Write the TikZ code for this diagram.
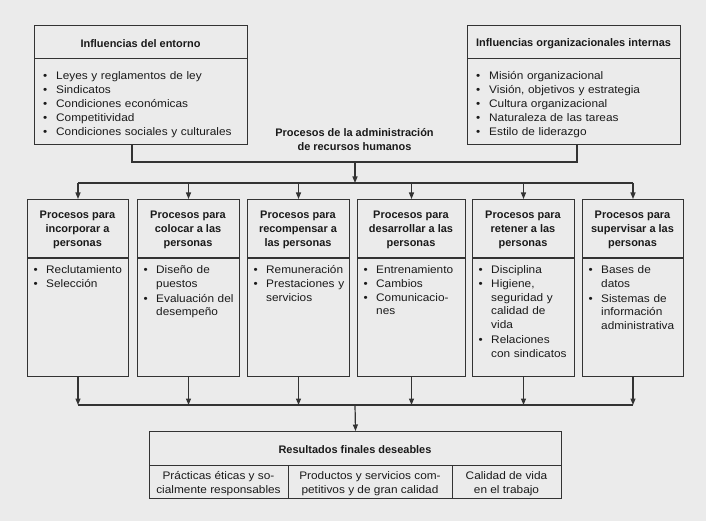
\documentclass[tikz,border=0pt]{standalone}
\usepackage{fontspec}
\setmainfont{Liberation Sans}[FakeStretch=1.08]
\newfontfamily\hdfont{Liberation Sans}[UprightFont={* Bold}]
\usetikzlibrary{arrows.meta}
\definecolor{bgc}{HTML}{EBEBEB}
\definecolor{lnc}{HTML}{333333}
\definecolor{txc}{HTML}{1A1A1A}
\newcommand\bl[1]{\par\noindent\makebox[12.5bp][l]{\textbullet}\begin{tabular}[t]{@{}l@{}}#1\end{tabular}\par}
\newcommand\blt[1]{\par\noindent\makebox[13bp][l]{\textbullet}\strut#1\par}
\tikzset{
  boxst/.style={draw=lnc, line width=1bp, fill=bgc, inner sep=0pt, anchor=north west},
  hdst/.style={text=txc, align=center, inner sep=0pt, font=\hdfont\fontsize{11}{14}\selectfont},
  lst/.style={text=txc, align=left, inner sep=0pt, anchor=north west, text width=100bp,
    font=\fontsize{11}{14}\selectfont},
  cellst/.style={text=txc, align=center, inner sep=0pt, font=\fontsize{11}{14}\selectfont},
  divst/.style={draw=lnc, line width=1bp},
  conn/.style={draw=lnc, line width=1.2bp},
  arr/.style={conn, -{Triangle[length=6.5bp,width=5bp]}}
}
\begin{document}
\begin{tikzpicture}[x=1bp,y=-1bp]
\useasboundingbox (0,0) rectangle (706,521);
\fill[bgc] (0,0) rectangle (706,521);

% top boxes
\node[boxst, minimum width=213bp, minimum height=119bp] (tl) at (34,25) {};
\draw[divst] (34,59) -- (247,59);
\node[hdst] (tlh) at (140.5,43.5) {Influencias del entorno};
\node[lst, text width=200bp] (tll) at (43,65.2) {\blt{Leyes y reglamentos de ley}\blt{Sindicatos}\blt{Condiciones económicas}\blt{Competitividad}\blt{Condiciones sociales y culturales}};

\node[boxst, minimum width=213bp, minimum height=119bp] (tr) at (467,25) {};
\draw[divst] (467,59) -- (680,59);
\node[hdst] (trh) at (573.5,43.5) {Influencias organizacionales internas};
\node[lst, text width=200bp] (trl) at (476,65.2) {\blt{Misión organizacional}\blt{Visión, objetivos y estrategia}\blt{Cultura organizacional}\blt{Naturaleza de las tareas}\blt{Estilo de liderazgo}};

\node[hdst] (mid) at (354.5,139.5) {Procesos de la administración\\de recursos humanos};

% process boxes
\node[boxst, minimum width=101bp, minimum height=177bp] (p1) at (27,199) {};
\node[boxst, minimum width=102bp, minimum height=177bp] (p2) at (137,199) {};
\node[boxst, minimum width=102bp, minimum height=177bp] (p3) at (247,199) {};
\node[boxst, minimum width=108bp, minimum height=177bp] (p4) at (357,199) {};
\node[boxst, minimum width=102bp, minimum height=177bp] (p5) at (472,199) {};
\node[boxst, minimum width=101bp, minimum height=177bp] (p6) at (582,199) {};
\foreach \i in {1,...,6}{\draw[divst] (p\i.west |- 0,258) -- (p\i.east |- 0,258);}

\node[hdst] (h1) at (77.5,229.5) {Procesos para\\incorporar a\\personas};
\node[hdst] (h2) at (188,229.5) {Procesos para\\colocar a las\\personas};
\node[hdst] (h3) at (298,229.5) {Procesos para\\recompensar a\\las personas};
\node[hdst] (h4) at (411,229.5) {Procesos para\\desarrollar a las\\personas};
\node[hdst] (h5) at (523,229.5) {Procesos para\\retener a las\\personas};
\node[hdst] (h6) at (632.5,229.5) {Procesos para\\supervisar a las\\personas};

\node[lst] (l1) at (33.5,259) {\bl{Reclutamiento}\bl{Selección}};
\node[lst] (l2) at (143.5,259) {\bl{Diseño de\\puestos}\bl{Evaluación del\\desempeño}};
\node[lst] (l3) at (253.5,259) {\bl{Remuneración}\bl{Prestaciones y\\servicios}};
\node[lst] (l4) at (363.5,259) {\bl{Entrenamiento}\bl{Cambios}\bl{Comunicacio-\\nes}};
\node[lst] (l5) at (478.5,259) {\bl{Disciplina}\bl{Higiene,\\seguridad y\\calidad de\\vida}\bl{Relaciones\\con sindicatos}};
\node[lst] (l6) at (588.5,259) {\bl{Bases de\\datos}\bl{Sistemas de\\información\\administrativa}};

% results box
\node[boxst, minimum width=412bp, minimum height=67bp] (res) at (149,431) {};
\draw[divst] (149,465) -- (561,465);
\draw[divst] (288,465) -- (288,498);
\draw[divst] (452,465) -- (452,498);
\node[hdst] (resh) at (355,449.5) {Resultados finales deseables};
\node[cellst] (c1) at (218.5,484) {Prácticas éticas y so-\\cialmente responsables};
\node[cellst] (c2) at (370,484) {Productos y servicios com-\\petitivos y de gran calidad};
\node[cellst] (c3) at (506.5,484) {Calidad de vida\\en el trabajo};

% connectors
\coordinate (jl) at (132,162);
\coordinate (jr) at (577,162);
\coordinate (jm) at (355,162);
\coordinate (b1) at (355,183);
\coordinate (b2) at (355,405);
\draw[conn] (tl.south -| jl) -- (jl) -- (jr) -- (tr.south -| jr);
\draw[arr] (jm) -- (b1);
\draw[conn] (p1.north |- b1) -- (p6.north |- b1);
\draw[conn] (p1.south |- b2) -- (p6.south |- b2);
\foreach \i in {1,...,6}{
  \draw[arr] (p\i.north |- b1) -- (p\i.north);
  \draw[arr] (p\i.south) -- (p\i.south |- b2);
}
\draw[arr] (b2) -- (res.north);
\end{tikzpicture}
\end{document}
